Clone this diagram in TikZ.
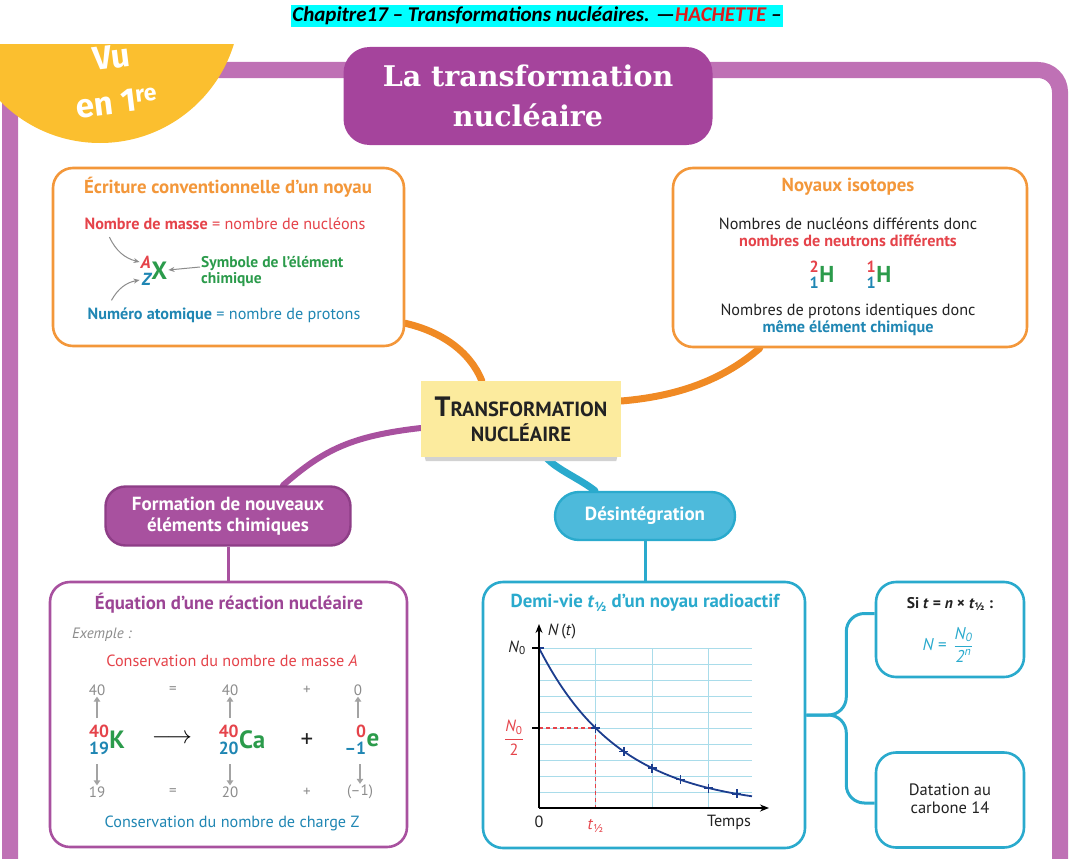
\documentclass[tikz,border=0pt]{standalone}
\usepackage{fontspec}
\usepackage{amsmath,mathtools}
\usepackage{xcolor}
\setmainfont{PT Sans}
\newfontfamily\entetefont{Carlito}
\newfontfamily\titrefont{DejaVu Serif}
\newfontfamily\vufont{Fira Sans}
\usetikzlibrary{arrows.meta,backgrounds,calc}

\definecolor{cadre}{HTML}{BF71B5}
\definecolor{titremauve}{HTML}{A5449C}
\definecolor{jaune}{HTML}{FBBF2F}
\definecolor{orangeb}{HTML}{F3973A}
\definecolor{orangel}{HTML}{F08A24}
\definecolor{rouge}{HTML}{E5434A}
\definecolor{vert}{HTML}{2B9B4B}
\definecolor{bleu}{HTML}{1F86B3}
\definecolor{cyanb}{HTML}{2AAACD}
\definecolor{cyanf}{HTML}{4DBADB}
\definecolor{mauve}{HTML}{A8519F}
\definecolor{mauveb}{HTML}{8E3E87}
\definecolor{mauvet}{HTML}{9C4595}
\definecolor{postit}{HTML}{FCEB9E}
\definecolor{grille}{HTML}{A9DCEA}
\definecolor{courbe}{HTML}{1C3D8E}
\definecolor{gris}{HTML}{8C8C8C}
\definecolor{noir}{HTML}{222222}
\definecolor{surligne}{HTML}{00FFFF}
\definecolor{hachette}{HTML}{E01B1B}

\newcommand{\noyau}[3]{$\prescript{\text{\color{rouge}#1}}{\text{\color{bleu}#2}}{\text{#3}}$}
\newcommand{\tdemi}{\textit{t}\textsubscript{½}}

\begin{document}
\begin{tikzpicture}[x=1pt,y=-1pt,
  card/.style={draw=#1,line width=2.6pt,rounded corners=20pt,fill=white},
  txt/.style={font=\fontsize{16.2}{18}\selectfont,inner sep=1pt,align=center,text=noir},
  ttl/.style={font=\fontsize{18.8}{20}\selectfont\bfseries,text=#1,inner sep=1pt},
  pill/.style={draw=#1,line width=2.4pt,text=white,align=center,
    font=\fontsize{19}{21}\selectfont\bfseries},
  link/.style={draw=#1,line width=7pt,line cap=round},
  stem/.style={draw=#1,line width=3pt},
  num/.style={font=\fontsize{15}{17}\selectfont,text=gris,inner sep=1pt},
  nuc/.style={font=\fontsize{25}{27}\selectfont\bfseries,text=vert,inner sep=1pt},
  garr/.style={draw=gris!80,line width=1.8pt,-{Triangle[length=5pt,width=6.5pt]}},
  sarr/.style={draw=gris,line width=1pt,-{Stealth[length=6pt,width=5pt]}},
  cross/.style={draw=courbe,line width=1.5pt}]
\useasboundingbox (0,0) rectangle (1076,859);

% cadre et pastille
\draw[cadre,line width=16pt,rounded corners=22pt] (10,900) -- (10,70) -- (1060,70) -- (1060,900);
\begin{scope}
  \clip (0,45) rectangle (400,400);
  \fill[jaune] (100,3) circle (140pt);
\end{scope}
\node[text=white,align=center,inner sep=0pt,font=\vufont\bfseries\fontsize{33}{45}\selectfont,rotate=7] (vu) at (114,80)
  {Vu\\en 1\textsuperscript{re}};

% en-tete et titre
\node[fill=surligne,inner sep=1.5pt,font=\entetefont\bfseries\itshape\fontsize{21}{23}\selectfont] (entete) at (537,16)
  {Chapitre17 – Transformations nucléaires. —\textcolor{hachette}{HACHETTE} –};
\node[fill=titremauve,rounded corners=26pt,minimum width=369pt,minimum height=98pt,text=white,align=center,
  font=\titrefont\bfseries\fontsize{28.5}{40}\selectfont] (titre) at (528,96) {La transformation\\nucléaire};

% cartes
\node[card=orangeb,minimum width=351pt,minimum height=178pt] (ecr) at (228.5,257) {};
\node[card=orangeb,minimum width=354pt,minimum height=179pt] (iso) at (850,257.5) {};
\node[card=mauve,minimum width=357pt,minimum height=265pt] (eq) at (228.5,714.5) {};
\node[card=cyanb,minimum width=322pt,minimum height=266pt] (demi) at (644,715) {};
\node[card=cyanb,minimum width=148pt,minimum height=95pt] (sit) at (950,629.5) {};
\node[card=cyanb,minimum width=148pt,minimum height=95pt] (dat) at (950,800) {};

\node[fill=postit,minimum width=200pt,minimum height=76pt,align=center,text=noir,
  font=\fontsize{20.5}{25}\selectfont\bfseries] (centre) at (521,419)
  {{\fontsize{28}{25}\selectfont T}RANSFORMATION\\NUCLÉAIRE};
\fill[gray!35] ([xshift=4pt]centre.south west) -- ([xshift=-4pt]centre.south east)
  -- ([xshift=-5pt,yshift=-4pt]centre.south east) -- ([xshift=5pt,yshift=-4pt]centre.south west) -- cycle;
\node[pill=mauveb,fill=mauve,rounded corners=20pt,minimum width=245pt,minimum height=59pt] (form) at (228,516)
  {Formation de nouveaux\\éléments chimiques};
\node[pill=cyanb,fill=cyanf,rounded corners=24pt,minimum width=180pt,minimum height=48pt] (desint) at (645,516)
  {Désintégration};

% ecriture conventionnelle
\node[ttl=orangeb] (ecrT) at (228,187) {Écriture conventionnelle d’un noyau};
\node[txt,text=rouge] (masse) at (225,224) {\textbf{Nombre de masse} = nombre de nucléons};
\node[nuc] (nucX) at (154,271) {\noyau{\itshape A}{\itshape Z}{X}};
\node[txt,text=vert,font=\fontsize{15.5}{16}\selectfont\bfseries,align=left,anchor=west] (symb) at (200,271)
  {Symbole de l’élément\\chimique};
\node[txt,text=bleu] (numero) at (224,315) {\textbf{Numéro atomique} = nombre de protons};
\draw[sarr] ([xshift=26pt,yshift=-6pt]masse.south west) to[bend right=25] ([yshift=9pt]nucX.west);
\draw[sarr] ([xshift=25pt,yshift=6pt]numero.north west) to[bend left=25] ([yshift=-9pt]nucX.west);
\draw[sarr] ([yshift=4pt]symb.west) -- ([yshift=1pt]nucX.east);

% isotopes
\node[ttl=orangeb] (isoT) at (848,187) {Noyaux isotopes};
\node[txt] (nucl) at (848,224) {Nombres de nucléons différents donc};
\node[txt,text=rouge,font=\fontsize{16.2}{18}\selectfont\bfseries] (neut) at (848,241) {nombres de neutrons différents};
\node[nuc,font=\fontsize{23}{25}\selectfont\bfseries] (deut) at (822,275) {\noyau{2}{1}{H}};
\node[nuc,font=\fontsize{23}{25}\selectfont\bfseries] (hydr) at (879,275) {\noyau{1}{1}{H}};
\node[txt] (prot) at (848,311) {Nombres de protons identiques donc};
\node[txt,text=bleu,font=\fontsize{16.2}{18}\selectfont\bfseries] (meme) at (848,328) {même élément chimique};

% equation
\node[ttl=mauvet] (eqT) at (229,603) {Équation d’une réaction nucléaire};
\node[txt,text=gris,font=\fontsize{15}{17}\selectfont\itshape,anchor=west] (ex) at (71,635) {Exemple :};
\node[txt,text=rouge] (consA) at (232,661) {Conservation du nombre de masse \textit{A}};
\node[num] (a1) at (97,690) {40};
\node[num] (a2) at (173,690) {=};
\node[num] (a3) at (230,690) {40};
\node[num] (a4) at (307,690) {+};
\node[num] (a5) at (358,690) {0};
\node[nuc] (nK) at (107,740) {\noyau{40}{19}{K}};
\node[font=\fontsize{24}{26}\selectfont] (fl) at (172,739) {$\longrightarrow$};
\node[nuc] (nCa) at (242,740) {\noyau{40}{20}{Ca}};
\node[font=\fontsize{25}{27}\selectfont,text=noir] (pl) at (307,741) {+};
\node[nuc] (nE) at (362,740) {\noyau{0}{–1}{e}};
\node[num] (z1) at (97,792) {19};
\node[num] (z2) at (173,792) {=};
\node[num] (z3) at (230,792) {20};
\node[num] (z4) at (307,792) {+};
\node[num] (z5) at (360,792) {(–1)};
\node[txt,text=bleu] (consZ) at (232,823) {Conservation du nombre de charge Z};
\foreach \m/\z in {a1/z1,a3/z3,a5/z5}{
  \draw[garr] (\m.south |- 0,718) -- (\m.south);
  \draw[garr] (\z.north |- 0,764) -- (\z.north);
}

% demi-vie
\node[ttl=cyanb] (demiT) at (645,603) {Demi-vie \tdemi{} d’un noyau radioactif};
\begin{scope}[shift={(539,808)}]
  \foreach \k in {0,...,9} \draw[grille,line width=0.9pt] (0,{-160+16*\k}) -- (213,{-160+16*\k});
  \foreach \v in {56.5,113,169.5} \draw[grille,line width=0.9pt] (\v,0) -- (\v,-160);
  \draw[rouge,line width=1.4pt,dash pattern=on 4pt off 3pt] (0,-80) -- (56.5,-80) -- (56.5,0);
  \draw[courbe,line width=1.8pt] plot[domain=0:213,samples=90] (\x,{-160*2^(-\x/56.5)});
  \foreach \t in {0,56.5,84.75,113,141.25,169.5,197.75}{
    \pgfmathsetmacro{\yv}{-160*2^(-\t/56.5)}
    \draw[cross] ({\t-4.5},\yv) -- ({\t+4.5},\yv) (\t,{\yv-4.5}) -- (\t,{\yv+4.5});
  }
  \draw[line width=1.3pt,-{Stealth[length=9pt,width=7pt]}] (0,0) -- (230,0);
  \draw[line width=1.3pt,-{Stealth[length=9pt,width=7pt]}] (0,0) -- (0,-184);
  \draw[line width=1.3pt] (-7,-160) -- (0,-160) (-7,-80) -- (0,-80);
  \node[txt] (ylab) at (23,-176) {\textit{N}\,(\textit{t})};
  \node[txt] (nzero) at (-22,-160) {\textit{N}\textsubscript{0}};
  \node[txt,text=rouge] (nmoit) at (-25,-70) {$\dfrac{\text{\itshape N}_{\text{0}}}{\text{2}}$};
  \node[txt] (orig) at (0,14) {0};
  \node[txt,text=rouge] (thalf) at (56.5,18) {\tdemi};
  \node[txt] (temps) at (190,14) {Temps};
\end{scope}

% loi et datation
\node[txt,font=\fontsize{15.5}{17}\selectfont\bfseries] (si) at (950,604) {Si \textit{t} = \textit{n} × \tdemi{} :};
\node[txt,text=cyanb,font=\fontsize{17}{19}\selectfont\itshape] (loi) at (948,645)
  {N = \,$\dfrac{\text{\itshape N}_{\text{0}}}{\text{2}^{\text{\itshape n}}}$};
\node[txt,font=\fontsize{16.5}{18}\selectfont] (datT) at (950,799) {Datation au\\carbone 14};

% liaisons
\begin{scope}[on background layer]
  \draw[link=orangel] ([yshift=24pt]ecr.south east) .. controls +(35,8) and +(-12,-30) .. ([xshift=61pt]centre.north west);
  \draw[link=orangel] ([yshift=18pt]centre.east) .. controls +(60,-5) and +(-35,30) .. ([xshift=88pt]iso.south west);
  \draw[link=mauve,line width=6pt] ([yshift=-9pt]centre.west) .. controls +(-70,8) and +(40,-35) .. ([xshift=55pt]form.north);
  \draw[link=cyanb] ([xshift=25pt]centre.south) .. controls +(10,12) and +(-15,-12) .. ([xshift=-50pt]desint.north);
  \draw[stem=mauve] (form.south) -- (form.south |- eq.north);
  \draw[stem=cyanb] (desint.south) -- (desint.south |- demi.north);
  \draw[stem=cyanb,rounded corners=18pt] (demi.east) -- ++(40,0) |- ([yshift=16pt]sit.west);
  \draw[stem=cyanb,rounded corners=18pt] (demi.east) -- ++(40,0) |- ([yshift=-3pt]dat.west);
\end{scope}
\end{tikzpicture}
\end{document}
